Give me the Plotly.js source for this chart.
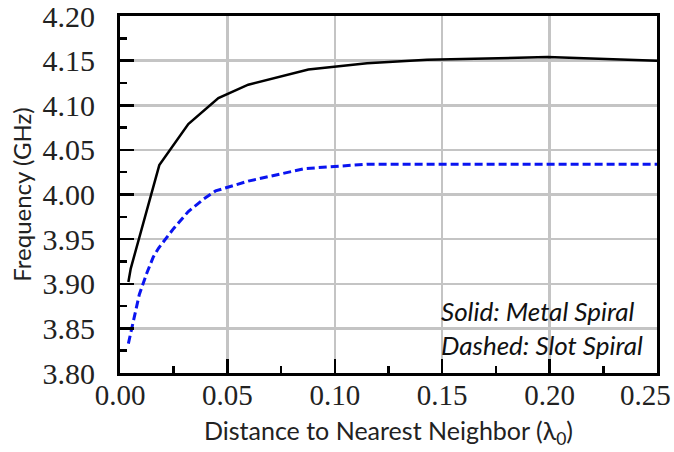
<!DOCTYPE html>
<html>
<head>
<meta charset="utf-8">
<script src="https://cdn.plot.ly/plotly-3.0.1.min.js"></script>
<style>html,body{margin:0;padding:0;background:#fff;}#chart{width:674px;height:452px;}</style>
</head>
<body>
<div id="chart"></div>
<script>
// Solid: Metal Spiral
const metalX = [0.0039, 0.005, 0.0183, 0.0318, 0.0458, 0.0597, 0.0877, 0.115, 0.143, 0.199, 0.25];
const metalY = [3.902, 3.917, 4.033, 4.079, 4.108, 4.123, 4.140, 4.147, 4.151, 4.154, 4.150];
// Dashed: Slot Spiral
const slotX = [0.0039, 0.006, 0.009, 0.0125, 0.0155, 0.0180, 0.025, 0.0318, 0.0390, 0.0445, 0.0597, 0.0860, 0.106, 0.115, 0.143, 0.199, 0.25];
const slotY = [3.833, 3.857, 3.888, 3.912, 3.930, 3.940, 3.962, 3.981, 3.995, 4.004, 4.015, 4.029, 4.033, 4.034, 4.034, 4.034, 4.034];
const xTicks = [0.00, 0.05, 0.10, 0.15, 0.20];
const xTickText = ['0.00', '0.05', '0.10', '0.15', '0.20'];
const xEndTick = 0.25;
const xEndText = '0.25';
const yTicks = [3.80, 3.85, 3.90, 3.95, 4.00, 4.05, 4.10, 4.15, 4.20];
const yTickText = ['3.80', '3.85', '3.90', '3.95', '4.00', '4.05', '4.10', '4.15', '4.20'];
const notes = ['Solid: Metal Spiral', 'Dashed: Slot Spiral'];

const traces = [
  {x: metalX, y: metalY, mode: 'lines', line: {color: '#000000', width: 2.5}, hoverinfo: 'skip'},
  {x: slotX, y: slotY, mode: 'lines', line: {color: '#0a14f0', width: 3, dash: '8px,4px'}, hoverinfo: 'skip'}
];

const xTickFont = {family: 'Liberation Serif, serif', size: 29, color: '#222'};
const yTickFont = {family: 'Liberation Serif, serif', size: 30, color: '#222'};
const titleFont = {family: 'Lato, sans-serif', size: 25, color: '#222'};

const layout = {
  width: 674, height: 452,
  margin: {l: 120, r: 17, t: 16, b: 79},
  paper_bgcolor: '#fff', plot_bgcolor: '#fff',
  showlegend: false,
  xaxis: {
    range: [0, 0.25], tickvals: xTicks.concat([xEndTick]), ticktext: xTickText.concat(['']),
    ticks: 'inside', ticklen: 14, tickwidth: 2.5, tickcolor: '#000',
    minor: {dtick: 0.025, ticks: 'inside', ticklen: 7, tickwidth: 2.5, tickcolor: '#000', showgrid: false},
    showline: true, linecolor: '#000', linewidth: 3, mirror: true,
    showgrid: true, gridcolor: '#c4c4c4', gridwidth: 2.5,
    zeroline: false, tickfont: xTickFont, ticklabelstandoff: -6, ticklabeloverflow: 'allow',
    title: {text: 'Distance to Nearest Neighbor (λ<sub>0</sub>)', font: titleFont, standoff: 13}
  },
  yaxis: {
    range: [3.80, 4.20], tickvals: yTicks, ticktext: yTickText,
    ticks: 'inside', ticklen: 14, tickwidth: 2.5, tickcolor: '#000',
    minor: {dtick: 0.025, ticks: 'inside', ticklen: 7, tickwidth: 2.5, tickcolor: '#000', showgrid: false},
    showline: true, linecolor: '#000', linewidth: 3, mirror: true,
    showgrid: true, gridcolor: '#c4c4c4', gridwidth: 2.5,
    zeroline: false, tickfont: yTickFont, ticklabelstandoff: 16, ticklabeloverflow: 'allow',
    title: {text: 'Frequency (GHz)', font: {family: 'Lato, sans-serif', size: 24, color: '#222'}, standoff: 5}
  },
  annotations: [
    {x: xEndTick, y: 0, xref: 'x', yref: 'paper', xanchor: 'right', yanchor: 'top', xshift: 16, yshift: -4,
     showarrow: false, text: xEndText, font: xTickFont},
    {x: 0.1485, y: 3.869, xref: 'x', yref: 'y', xanchor: 'left', yanchor: 'middle', showarrow: false,
     text: '<i>' + notes[0] + '</i>', font: {family: 'Lato, sans-serif', size: 26, color: '#111'}},
    {x: 0.1485, y: 3.831, xref: 'x', yref: 'y', xanchor: 'left', yanchor: 'middle', showarrow: false,
     text: '<i>' + notes[1] + '</i>', font: {family: 'Lato, sans-serif', size: 26, color: '#111'}}
  ]
};

Plotly.newPlot('chart', traces, layout, {displayModeBar: false, staticPlot: true});
</script>
</body>
</html>
